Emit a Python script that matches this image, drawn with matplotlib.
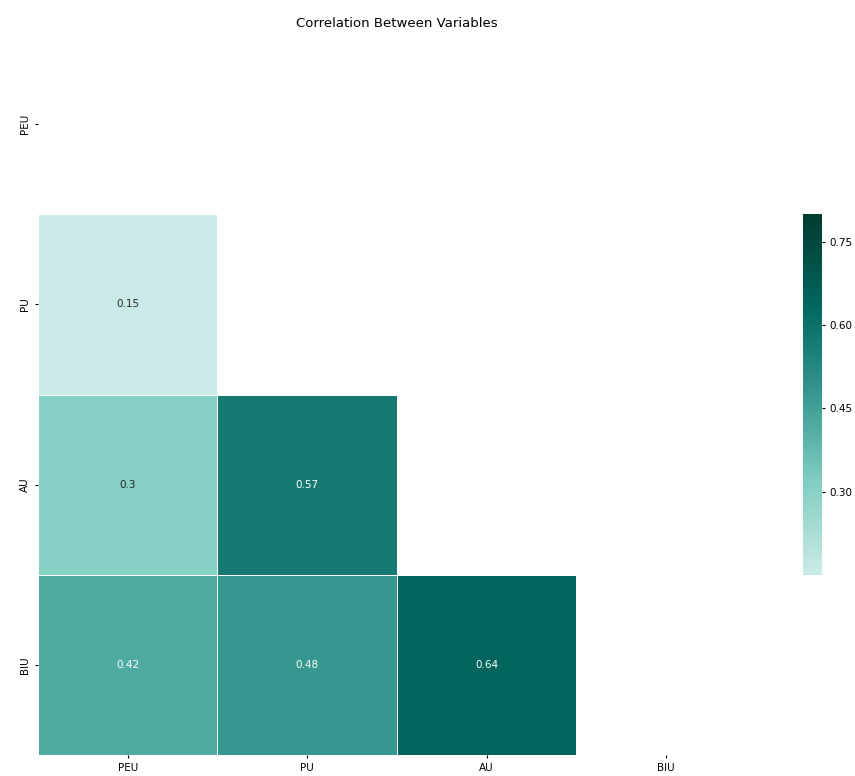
import numpy as np
import pandas as pd
import matplotlib
matplotlib.use("Agg")
import matplotlib.pyplot as plt
import seaborn as sns

variables = ["PEU", "PU", "AU", "BIU"]
# lower triangle, rest mirrored / masked
corr_values = [
    [1.00, 0.15, 0.30, 0.42],
    [0.15, 1.00, 0.57, 0.48],
    [0.30, 0.57, 1.00, 0.64],
    [0.42, 0.48, 0.64, 1.00],
]

corr = pd.DataFrame(corr_values, index=variables, columns=variables)
mask = np.triu(np.ones_like(corr, dtype=bool))

fig = plt.figure(figsize=(8.55, 7.76), dpi=100)
ax = fig.add_axes([0.0444, 0.027, 0.8398, 0.929])
cax = fig.add_axes([0.939, 0.259, 0.022, 0.465])

sns.heatmap(corr, mask=mask, cmap="BrBG", vmax=0.8, center=0,
            linewidths=0.5, linecolor="white", annot=True,
            annot_kws={"size": 7.5}, ax=ax, cbar_ax=cax)

ax.set_title("Correlation Between Variables", fontsize=9.5, pad=0, y=1.01)
ax.tick_params(labelsize=7.5, length=2)
ax.set_yticklabels(variables, rotation=90, va="center")
ax.set_xticklabels(variables, rotation=0)
cax.tick_params(labelsize=7.5, length=2)
cax.set_yticks([0.30, 0.45, 0.60, 0.75])

fig.savefig("out.png", dpi=100)
